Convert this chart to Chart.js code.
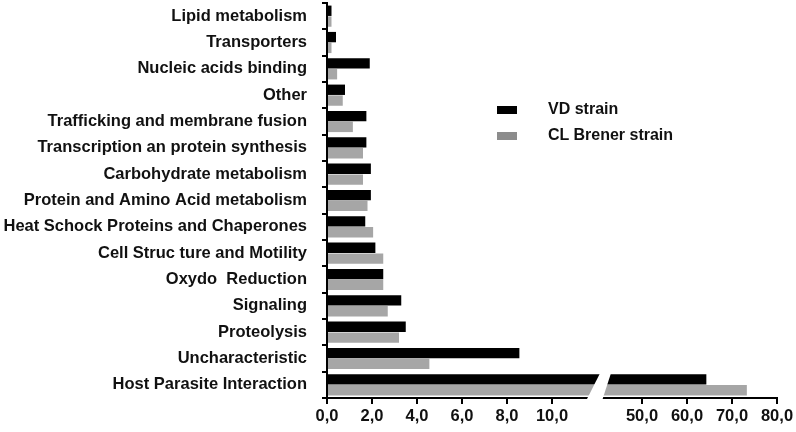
<!DOCTYPE html>
<html>
<head>
<meta charset="utf-8">
<script src="https://cdn.jsdelivr.net/npm/chart.js@4.4.1/dist/chart.umd.min.js"></script>
<style>
  body { margin: 0; background: #fff; }
  #wrap { position: relative; width: 796px; height: 432px; }
  .leg { position: absolute; left: 497px; font: bold 16px "Liberation Sans", Arial, sans-serif; color: #111; white-space: nowrap; }
  .leg span { display: inline-block; width: 20px; height: 8px; margin-right: 31px; vertical-align: middle; }
</style>
</head>
<body>
<div id="wrap">
  <canvas id="chart" width="796" height="432"></canvas>
  <div class="leg" style="top:100px"><span style="background:#000"></span>VD strain</div>
  <div class="leg" style="top:126px"><span style="background:#8c8c8c"></span>CL Brener strain</div>
</div>
<script>
const categories = [
  "Lipid metabolism",
  "Transporters",
  "Nucleic acids binding",
  "Other",
  "Trafficking and membrane fusion",
  "Transcription an protein synthesis",
  "Carbohydrate metabolism",
  "Protein and Amino Acid metabolism",
  "Heat Schock Proteins and Chaperones",
  "Cell Struc ture and Motility",
  "Oxydo  Reduction",
  "Signaling",
  "Proteolysis",
  "Uncharacteristic",
  "Host Parasite Interaction"
];
const vdStrain = [0.2, 0.4, 1.9, 0.8, 1.75, 1.75, 1.95, 1.95, 1.7, 2.15, 2.5, 3.3, 3.5, 8.55, 64.3];
const clBrener = [0.2, 0.2, 0.45, 0.7, 1.15, 1.6, 1.6, 1.8, 2.05, 2.5, 2.5, 2.7, 3.2, 4.55, 73.3];
const tickValues = [0, 2, 4, 6, 8, 10, 50, 60, 70, 80];

// broken x axis: 0..11.6 then gap then 41.1..80
const breakLow = 11.6, breakHigh = 41.1;
const axisMap = [[0, 0], [breakLow, 0.58], [breakHigh, 0.611], [80, 1]];

class BrokenScale extends Chart.LinearScale {
  static id = 'broken';
  static defaults = {};
  buildTicks() {
    return tickValues.map(v => ({ value: v }));
  }
  getPixelForValue(value) {
    if (value === null || isNaN(value)) return NaN;
    let f = 0;
    for (let i = 1; i < axisMap.length; i++) {
      const a = axisMap[i - 1], b = axisMap[i];
      if (value <= b[0] || i === axisMap.length - 1) {
        f = a[1] + (value - a[0]) * (b[1] - a[1]) / (b[0] - a[0]);
        break;
      }
    }
    return this.getPixelForDecimal(f);
  }
  getValueForPixel(pixel) {
    const f = this.getDecimalForPixel(pixel);
    for (let i = 1; i < axisMap.length; i++) {
      const a = axisMap[i - 1], b = axisMap[i];
      if (f <= b[1] || i === axisMap.length - 1) {
        return a[0] + (f - a[1]) * (b[0] - a[0]) / (b[1] - a[1]);
      }
    }
  }
}
Chart.register(BrokenScale);

const breakPlugin = {
  id: 'axisBreak',
  afterDraw(chart) {
    const x = chart.scales.x, ctx = chart.ctx;
    const xl = x.getPixelForValue(breakLow), xr = x.getPixelForValue(breakHigh);
    const bar = chart.getDatasetMeta(0).data[categories.length - 1];
    const top = bar.y - bar.height / 2 - 1;
    const bottom = chart.chartArea.bottom + 3;
    ctx.save();
    ctx.fillStyle = '#fff';
    ctx.beginPath();
    ctx.moveTo(xl - 2, bottom);
    ctx.lineTo(xr, bottom);
    ctx.lineTo(xr + 9, top);
    ctx.lineTo(xl + 12, top);
    ctx.closePath();
    ctx.fill();
    ctx.restore();
  }
};

const font = { family: '"Liberation Sans", Arial, sans-serif', size: 16.5, weight: 'bold' };

new Chart(document.getElementById('chart'), {
  type: 'bar',
  data: {
    labels: categories,
    datasets: [
      { label: 'VD strain', data: vdStrain, backgroundColor: '#000', categoryPercentage: 0.82, barPercentage: 0.96 },
      { label: 'CL Brener strain', data: clBrener, backgroundColor: '#a6a6a6', categoryPercentage: 0.82, barPercentage: 0.96 }
    ]
  },
  options: {
    indexAxis: 'y',
    responsive: false,
    animation: false,
    layout: { padding: { top: 3, right: 19, left: 0, bottom: 0 } },
    plugins: { legend: { display: false }, tooltip: { enabled: false } },
    scales: {
      x: {
        type: 'broken',
        min: 0,
        max: 80,
        grid: { drawOnChartArea: false, tickLength: 6, color: '#000', lineWidth: 2 },
        border: { color: '#000', width: 2 },
        ticks: {
          autoSkip: false, maxRotation: 0, padding: 3, color: '#111', font: font,
          callback: v => v.toFixed(1).replace('.', ',')
        },
        afterFit: s => { s.height = 34; s.paddingLeft = 0; s.paddingRight = 0; }
      },
      y: {
        type: 'category',
        offset: true,
        grid: { offset: true, drawOnChartArea: false, tickLength: 5, color: '#000', lineWidth: 2 },
        border: { color: '#000', width: 2 },
        ticks: { padding: 15, color: '#111', font: font, autoSkip: false },
        afterFit: s => { s.width = 327; s.paddingTop = 0; s.paddingBottom = 0; }
      }
    }
  },
  plugins: [breakPlugin]
});
</script>
</body>
</html>
